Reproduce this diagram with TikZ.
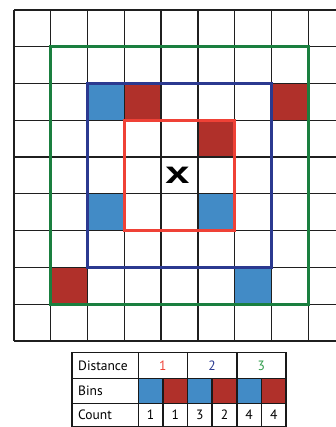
\documentclass[tikz,border=0pt]{standalone}
\usepackage{fontspec}
\setmainfont{PT Sans}
\newfontfamily\xfont{Liberation Sans}
\definecolor{cellblue}{HTML}{428BC6}
\definecolor{cellred}{HTML}{B0302A}
\definecolor{lgreen}{HTML}{1A7F3F}
\definecolor{lblue}{HTML}{2B3990}
\definecolor{lred}{HTML}{EF4136}
\definecolor{tgreen}{HTML}{2E9B4A}
\tikzset{
  gridline/.style={draw=black!88, line width=1.3pt},
  ringline/.style={line width=3.3pt},
  tabline/.style={draw=black!90, line width=1.5pt},
  tabtext/.style={font=\fontsize{13.5}{14}\selectfont, inner sep=0pt},
}
\begin{document}
\begin{tikzpicture}[x=1pt,y=-1pt]
\useasboundingbox (0,0) rectangle (336,427);
\def\cs{36.77}
\begin{scope}
\clip (0,0) rectangle (336,427);
\foreach \c/\r/\col in {2/2/cellblue,3/2/cellred,7/2/cellred,5/3/cellred,2/5/cellblue,5/5/cellblue,1/7/cellred,6/7/cellblue}
  \fill[\col] ({14+\c*\cs},{10+\r*\cs}) rectangle ++(\cs,\cs);
\foreach \i in {0,...,9} {
  \draw[gridline] ({14+\i*\cs},10) -- ({14+\i*\cs},{10+9*\cs});
  \draw[gridline] (14,{10+\i*\cs}) -- ({14+9*\cs},{10+\i*\cs});
}
\draw[ringline, lgreen] ({14+1*\cs},{10+1*\cs}) rectangle ({14+8*\cs},{10+8*\cs});
\draw[ringline, lblue] ({14+2*\cs},{10+2*\cs}) rectangle ({14+7*\cs},{10+7*\cs});
\draw[ringline, lred] ({14+3*\cs},{10+3*\cs}) rectangle ({14+6*\cs},{10+6*\cs});
\node[inner sep=0pt] (xmark) at ({14+4.5*\cs-2},{10+4.5*\cs}) {\scalebox{1.4}[1]{\xfont\bfseries\fontsize{31}{31}\selectfont x}};
\end{scope}
% table
\def\tl{71.7}
\def\ta{138.3}
\def\tw{24.62}
\def\ra{352.5}
\def\rb{378.5}
\def\rc{403.5}
\def\rd{426.5}
\foreach \k/\col in {0/cellblue,1/cellred,2/cellblue,3/cellred,4/cellblue,5/cellred}
  \fill[\col] ({\ta+\k*\tw},\rb) rectangle ({\ta+(\k+1)*\tw},\rc);
\draw[tabline] (\tl,\rb) -- ({\ta+6*\tw},\rb);
\draw[tabline] (\tl,\rc) -- ({\ta+6*\tw},\rc);
\draw[tabline] (\ta,\ra) -- (\ta,\rd);
\foreach \k in {2,4}
  \draw[tabline] ({\ta+\k*\tw},\ra) -- ({\ta+\k*\tw},\rd);
\foreach \k in {1,3,5}
  \draw[tabline] ({\ta+\k*\tw},\rb) -- ({\ta+\k*\tw},\rd);
\draw[tabline, line width=1.8pt] (\tl,\ra) rectangle ({\ta+6*\tw},\rd);
\node[tabtext, anchor=west] (dist) at (78,{(\ra+\rb)/2}) {Distance};
\node[tabtext, anchor=west] (bins) at (78,{(\rb+\rc)/2}) {Bins};
\node[tabtext, anchor=west] (count) at (78,{(\rc+\rd)/2}) {Count};
\node[tabtext, text=lred] (d1) at ({\ta+1*\tw},{(\ra+\rb)/2}) {1};
\node[tabtext, text=lblue] (d2) at ({\ta+3*\tw},{(\ra+\rb)/2}) {2};
\node[tabtext, text=tgreen] (d3) at ({\ta+5*\tw},{(\ra+\rb)/2}) {3};
\foreach \k/\v in {0/1,1/1,2/3,3/2,4/4,5/4}
  \node[tabtext] (c\k) at ({\ta+(\k+0.5)*\tw},{(\rc+\rd)/2}) {\v};
\end{tikzpicture}
\end{document}
